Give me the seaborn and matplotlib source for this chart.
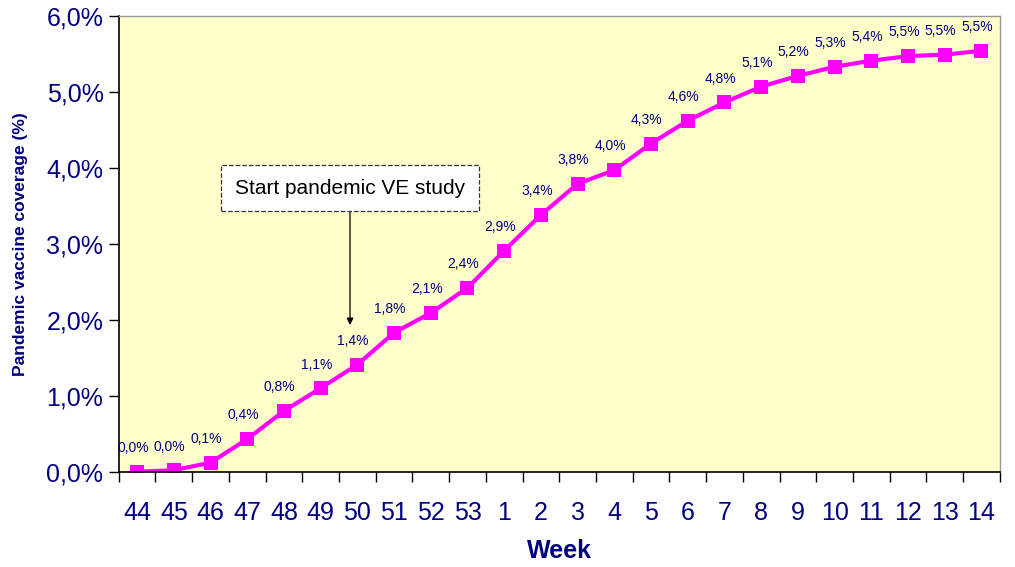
import numpy as np
import pandas as pd
import matplotlib
matplotlib.use("Agg")
import matplotlib.pyplot as plt
import seaborn as sns
from matplotlib.ticker import FuncFormatter, FixedLocator

weeks = ["44", "45", "46", "47", "48", "49", "50", "51", "52", "53", "1", "2",
         "3", "4", "5", "6", "7", "8", "9", "10", "11", "12", "13", "14"]
coverage = [0.00, 0.02, 0.12, 0.43, 0.80, 1.10, 1.41, 1.83, 2.09, 2.42, 2.91, 3.38,
            3.79, 3.97, 4.32, 4.62, 4.86, 5.07, 5.21, 5.33, 5.41, 5.47, 5.49, 5.54]
labels = ["0,0%", "0,0%", "0,1%", "0,4%", "0,8%", "1,1%", "1,4%", "1,8%", "2,1%", "2,4%",
          "2,9%", "3,4%", "3,8%", "4,0%", "4,3%", "4,6%", "4,8%", "5,1%", "5,2%", "5,3%",
          "5,4%", "5,5%", "5,5%", "5,5%"]
yticks = [0, 1, 2, 3, 4, 5, 6]
annot_text = "Start pandemic VE study"
annot_week = "50"

sns.set_style("white")
plt.rcParams['font.family'] = ['Liberation Sans', 'DejaVu Sans']

navy = "#000080"
df = pd.DataFrame({"pos": np.arange(len(weeks)), "cov": coverage})

fig = plt.figure(figsize=(10.15, 5.67), dpi=100)
ax = fig.add_axes([0.117, 0.168, 0.868, 0.804])
ax.set_facecolor("#FFFFCC")

sns.lineplot(data=df, x="pos", y="cov", ax=ax, color="#FF00FF", linewidth=3,
             marker="s", markersize=10.5, markeredgewidth=0, markeredgecolor="#FF00FF")

for x, y, t in zip(df["pos"], df["cov"], labels):
    ax.annotate(t, (x, y), xytext=(-3, 12), textcoords="offset points",
                ha="center", va="bottom", fontsize=10, color=navy)

ax.set_xlim(-0.5, len(weeks) - 0.5)
ax.set_ylim(0, 6)
ax.set_yticks(yticks)
ax.yaxis.set_major_formatter(FuncFormatter(lambda v, p: f"{v:.1f}".replace(".", ",") + "%"))
ax.set_xticks(np.arange(len(weeks)))
ax.set_xticklabels(weeks)
ax.xaxis.set_minor_locator(FixedLocator(np.arange(-0.5, len(weeks), 1.0)))
ax.tick_params(axis="x", which="major", length=0, pad=21, labelsize=18, labelcolor=navy)
ax.tick_params(axis="x", which="minor", length=7, width=1, color="black", direction="out", bottom=True)
ax.tick_params(axis="y", which="major", length=7, width=1, color="black", direction="out",
               labelsize=18, labelcolor=navy, left=True, pad=4)

for s in ["left", "bottom"]:
    ax.spines[s].set_color("black")
    ax.spines[s].set_linewidth(1.2)
for s in ["top", "right"]:
    ax.spines[s].set_color("#999999")
    ax.spines[s].set_linewidth(1)

ax.set_xlabel("Week", fontsize=18, fontweight="bold", color=navy, labelpad=10)
ax.set_ylabel("Pandemic vaccine coverage (%)", fontsize=12.5, fontweight="bold", color=navy, labelpad=13)

xi = weeks.index(annot_week) - 0.2
ax.annotate(annot_text, xy=(xi, 1.93), xytext=(xi, 3.73), ha="center", va="center",
            fontsize=15, color="black",
            bbox=dict(boxstyle="square,pad=0.65", fc="white", ec="#333333", ls="--", lw=0.9),
            arrowprops=dict(arrowstyle="-|>", color="black", lw=0.9, mutation_scale=10,
                            shrinkA=0, shrinkB=0))

fig.savefig("out.png", dpi=100)
